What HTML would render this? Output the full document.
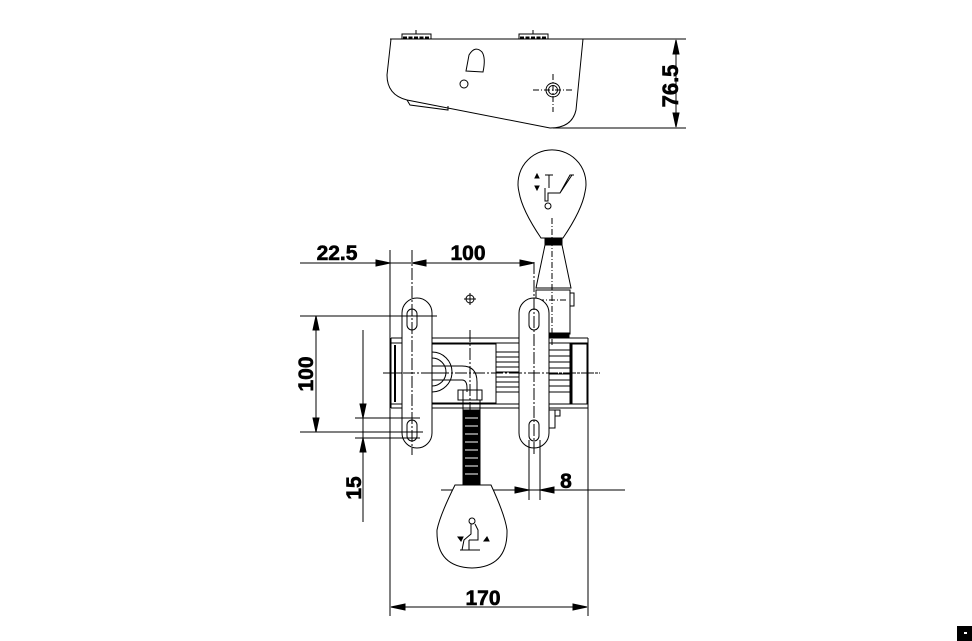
<!DOCTYPE html>
<html><head><style>body{margin:0;background:#fff}svg{display:block}text{font-family:"Liberation Sans",sans-serif;font-weight:bold;fill:#000}</style></head><body>
<svg width="972" height="641" viewBox="0 0 972 641" fill="none" stroke="#000" stroke-width="1">
<!-- TOP VIEW -->
<line x1="390" y1="39" x2="686" y2="39"/>
<line x1="553" y1="128" x2="686" y2="128"/>
<path d="M391 39 L387 75 Q387 95 407 100 L550 128 Q572 128 576 110 L583 39"/>
<path d="M407 100 L410 105 L448 110 L448 106"/>
<rect x="402" y="34" width="29" height="5"/><line x1="416" y1="30" x2="416" y2="34"/>
<path d="M403 38 H430" stroke-width="3" stroke-dasharray="4 1.5"/>
<rect x="519" y="34" width="29" height="5"/><line x1="533" y1="30" x2="533" y2="34"/>
<path d="M520 38 H547" stroke-width="3" stroke-dasharray="4 1.5"/>
<path d="M466 71 L469 55 Q475 45 482 52 Q486 58 483 72 Z"/>
<circle cx="464" cy="84" r="4"/>
<circle cx="553" cy="90" r="7"/><circle cx="553" cy="90" r="4.5"/>
<path d="M533 90 H572 M553 74 V112" stroke-dasharray="6 2 1 2"/>
<line x1="676" y1="40" x2="676" y2="127"/>
<path d="M676 40 l-3 14 h6z M676 127 l-3 -14 h6z" fill="#000"/>
<text transform="translate(678,86) rotate(-90)" font-size="22" text-anchor="middle" stroke="#000" stroke-width="0.6">76.5</text>

<!-- TOP KNOB -->
<path d="M541 238 Q522 210 519 192 A34 34 0 1 1 585 192 Q582 210 563 238 Z"/>
<rect x="545" y="239" width="17" height="6" fill="#000"/>
<path d="M545 245 L536 288 H571 L562 245"/>
<rect x="536" y="290" width="34" height="44"/>
<rect x="570" y="293" width="4" height="13"/>
<rect x="547" y="333" width="22" height="4" fill="#000"/>
<path d="M552 218 V345 M538 300 H567" stroke-dasharray="6 2 1 2"/>
<path d="M545 175 h8 M549 175 v13 M545 188 v13 h3 v-8 h12 l12 -18 M560 193 l10 -18 h4" />
<circle cx="548" cy="206" r="3"/>
<path d="M535 178 l2 -4 l2 4z M535 186 l2 4 l2 -4z" fill="#000"/>

<!-- extension / dims top -->
<line x1="390" y1="250" x2="390" y2="616"/>
<line x1="588" y1="340" x2="588" y2="616"/>
<line x1="300" y1="263" x2="532" y2="263"/>
<path d="M390 263 l-14 -3 v6z M412 263 l14 -3 v6z M534 263 l-14 -3 v6z" fill="#000"/>
<text x="337" y="260" font-size="21" text-anchor="middle" stroke="#000" stroke-width="0.6">22.5</text>
<text x="468" y="260" font-size="21" text-anchor="middle" stroke="#000" stroke-width="0.6">100</text>
<circle cx="470" cy="299" r="4"/><path d="M464 299 H476 M470 293 V305"/>

<!-- housing -->
<path d="M391 338 H588 M391 343 H588 M391 404 H588 M391 408 H588 M391 338 V408 M588 338 V408"/>
<rect x="431" y="344" width="65" height="59"/>
<path d="M395 345 V402" stroke-width="2"/>
<path d="M496 352 H519 M496 357 H519 M496 362 H519 M496 367 H519 M496 372 H519 M496 377 H519 M496 382 H519 M496 387 H519 M496 392 H519 M548 350 H570 M548 356 H570 M548 362 H570 M548 368 H570 M548 374 H570 M548 380 H570 M548 386 H570 M548 392 H570"/>
<rect x="570" y="344" width="17" height="60"/>
<path d="M571 344 V404" stroke-width="3"/>
<path d="M432 352 A20 20 0 0 1 432 392 M432 358 A14 14 0 0 1 432 386"/>
<path d="M432 366 H462 Q477 366 477 382 V392 M432 380 H462 Q467 380 467 388 V392"/>
<rect x="458" y="390" width="24" height="10"/><path d="M463 390 V400 M477 390 V400"/>
<rect x="463" y="400" width="17" height="10"/>
<line x1="383" y1="373" x2="600" y2="373" stroke-dasharray="12 2 2 2"/>
<line x1="470" y1="330" x2="470" y2="415" stroke-dasharray="12 2 2 2"/>
<rect x="463" y="410" width="17" height="75" fill="#000"/>
<path d="M465 418 H478 M465 426 H478 M465 434 H478 M465 442 H478 M465 450 H478 M465 458 H478 M465 466 H478 M465 474 H478" stroke="#fff"/>
<rect x="548" y="410" width="7" height="18"/><rect x="555" y="410" width="5" height="6"/>

<!-- levers -->
<rect x="402" y="298" width="30" height="150" rx="15" fill="#fff"/>
<rect x="407" y="309" width="10" height="21" rx="5"/>
<rect x="407" y="420" width="10" height="21" rx="5"/>
<rect x="519" y="298" width="30" height="150" rx="15" fill="#fff"/>
<rect x="529" y="309" width="10" height="21" rx="5"/>
<rect x="529" y="420" width="10" height="21" rx="5"/>
<line x1="412" y1="250" x2="412" y2="455" stroke-dasharray="12 2 2 2"/>
<line x1="534" y1="262" x2="534" y2="455" stroke-dasharray="12 2 2 2"/>
<line x1="385" y1="373" x2="440" y2="373" stroke-dasharray="12 2 2 2"/>
<line x1="510" y1="373" x2="600" y2="373" stroke-dasharray="12 2 2 2"/>

<!-- left dims -->
<path d="M300 316 H437 M300 432 H423 M355 418 H420 M355 438 H420"/>
<line x1="316" y1="316" x2="316" y2="432"/>
<path d="M316 316 l-3 14 h6z M316 432 l-3 -14 h6z" fill="#000"/>
<text transform="translate(313,374) rotate(-90)" font-size="21" text-anchor="middle" stroke="#000" stroke-width="0.6">100</text>
<line x1="363" y1="330" x2="363" y2="522"/>
<path d="M363 418 l-3 -14 h6z M363 438 l-3 14 h6z" fill="#000"/>
<text transform="translate(361,488) rotate(-90)" font-size="21" text-anchor="middle" stroke="#000" stroke-width="0.6">15</text>

<!-- 8 dim -->
<path d="M529 440 V500 M540 440 V500 M441 490 H625"/>
<path d="M529 490 l-14 -3 v6z M540 490 l14 -3 v6z" fill="#000"/>
<text x="566" y="488" font-size="21" text-anchor="middle" stroke="#000" stroke-width="0.6">8</text>

<!-- bottom knob -->
<path d="M455 485 H491 Q505 515 507 530 Q508 567 472 568 Q436 567 437 530 Q440 515 455 485 Z" fill="#fff"/>
<circle cx="472" cy="521" r="3"/>
<path d="M471 524 v10 l-7 6 l-2 10 M475 524 l3 6 v10 h-9 M469 540 v10 M464 550 h16 M460 550 h6" />
<path d="M458 537 h5 l-2 4z M484 541 h5 l-2 -4z" fill="#000"/>

<!-- 170 -->
<line x1="391" y1="607" x2="587" y2="607"/>
<path d="M391 607 l14 -3 v6z M587 607 l-14 -3 v6z" fill="#000"/>
<text x="483" y="605" font-size="21" text-anchor="middle" stroke="#000" stroke-width="0.6">170</text>

<rect x="957" y="626" width="15" height="15" fill="#000" stroke="none"/>
<rect x="964" y="632" width="3" height="2" fill="#fff" stroke="none"/>
</svg>
</body></html>
